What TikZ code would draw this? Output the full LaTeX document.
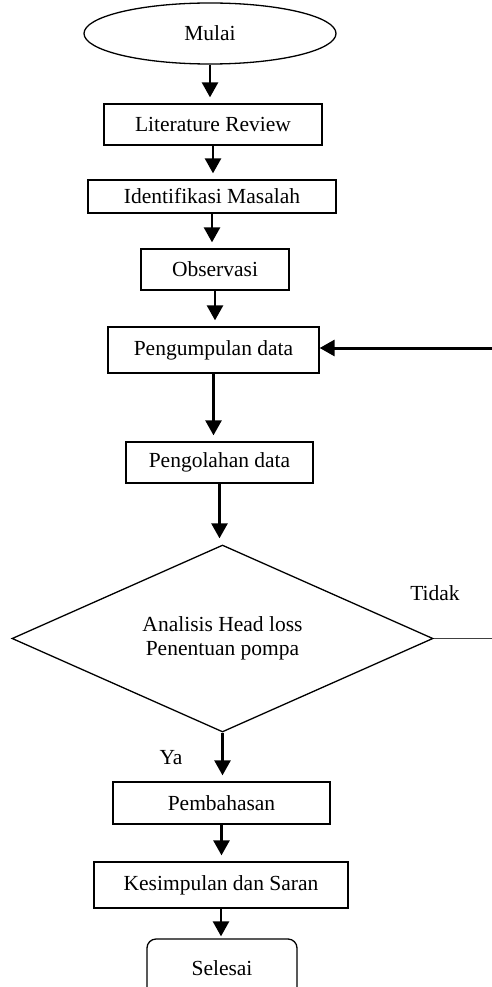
\documentclass[tikz,border=0pt]{standalone}
\usepackage{fontspec}
\setmainfont{Liberation Serif}
\usetikzlibrary{shapes.geometric,arrows.meta}
\tikzset{
  box/.style={draw, line width=1.3pt, rectangle, inner sep=0pt, font=\fontsize{21.5}{24}\selectfont},
  arr/.style={line width=2.6pt, -{Triangle[length=15pt,width=16pt]}, shorten >=6pt},
  lbl/.style={inner sep=0pt, font=\fontsize{21.5}{24}\selectfont}
}
\begin{document}
\begin{tikzpicture}[x=1pt,y=-1pt]
\useasboundingbox (0,0) rectangle (492,987);
\clip (0,0) rectangle (492,987);
\fill[white] (0,0) rectangle (492,987);
\node[box, ellipse, minimum width=252pt, minimum height=61pt] (mulai) at (210,33.5) {Mulai};
\node[box, minimum width=218pt, minimum height=41pt] (lit) at (213,124.5) {Literature Review};
\node[box, minimum width=248pt, minimum height=33pt] (iden) at (212,196.5) {Identifikasi Masalah};
\node[box, minimum width=148pt, minimum height=41pt] (obs) at (215,269.5) {Observasi};
\node[box, minimum width=211pt, minimum height=46pt] (peng) at (213.5,350) {Pengumpulan data};
\node[box, minimum width=187pt, minimum height=41pt] (olah) at (219.5,462.5) {Pengolahan data};
\node[box, diamond, aspect=2.25, minimum width=421pt, minimum height=187pt, align=center] (dia) at (222.5,638.5) {Analisis Head loss\\Penentuan pompa};
\node[box, minimum width=217pt, minimum height=42pt] (pemb) at (221.5,803) {Pembahasan};
\node[box, minimum width=254pt, minimum height=46pt] (kes) at (221,885) {Kesimpulan dan Saran};
\node[box, rounded corners=9pt, minimum width=150pt, minimum height=58pt] (sel) at (222,968) {Selesai};
\node[lbl] (tidak) at (435,593) {Tidak};
\node[lbl] (ya) at (171,758) {Ya};
\coordinate (rin) at (492,348);
\coordinate (rout) at (492,638.5);
\draw[arr] (mulai.south) -- (mulai.south |- lit.north);
\draw[arr] (lit.south) -- (lit.south |- iden.north);
\draw[arr] (iden.south) -- (iden.south |- obs.north);
\draw[arr] (obs.south) -- (obs.south |- peng.north);
\draw[arr] (peng.south) -- (peng.south |- olah.north);
\draw[arr] (olah.south) -- (olah.south |- dia.north);
\draw[arr] (dia.south) -- (dia.south |- pemb.north);
\draw[arr] (pemb.south) -- (pemb.south |- kes.north);
\draw[arr, shorten >=2pt] (kes.south) -- (kes.south |- sel.north);
\draw[arr, line width=3pt, shorten >=0pt] (rin) -- (peng.east |- rin);
\draw[line width=1.3pt, black!75] (dia.east) -- (rout);
\end{tikzpicture}
\end{document}
